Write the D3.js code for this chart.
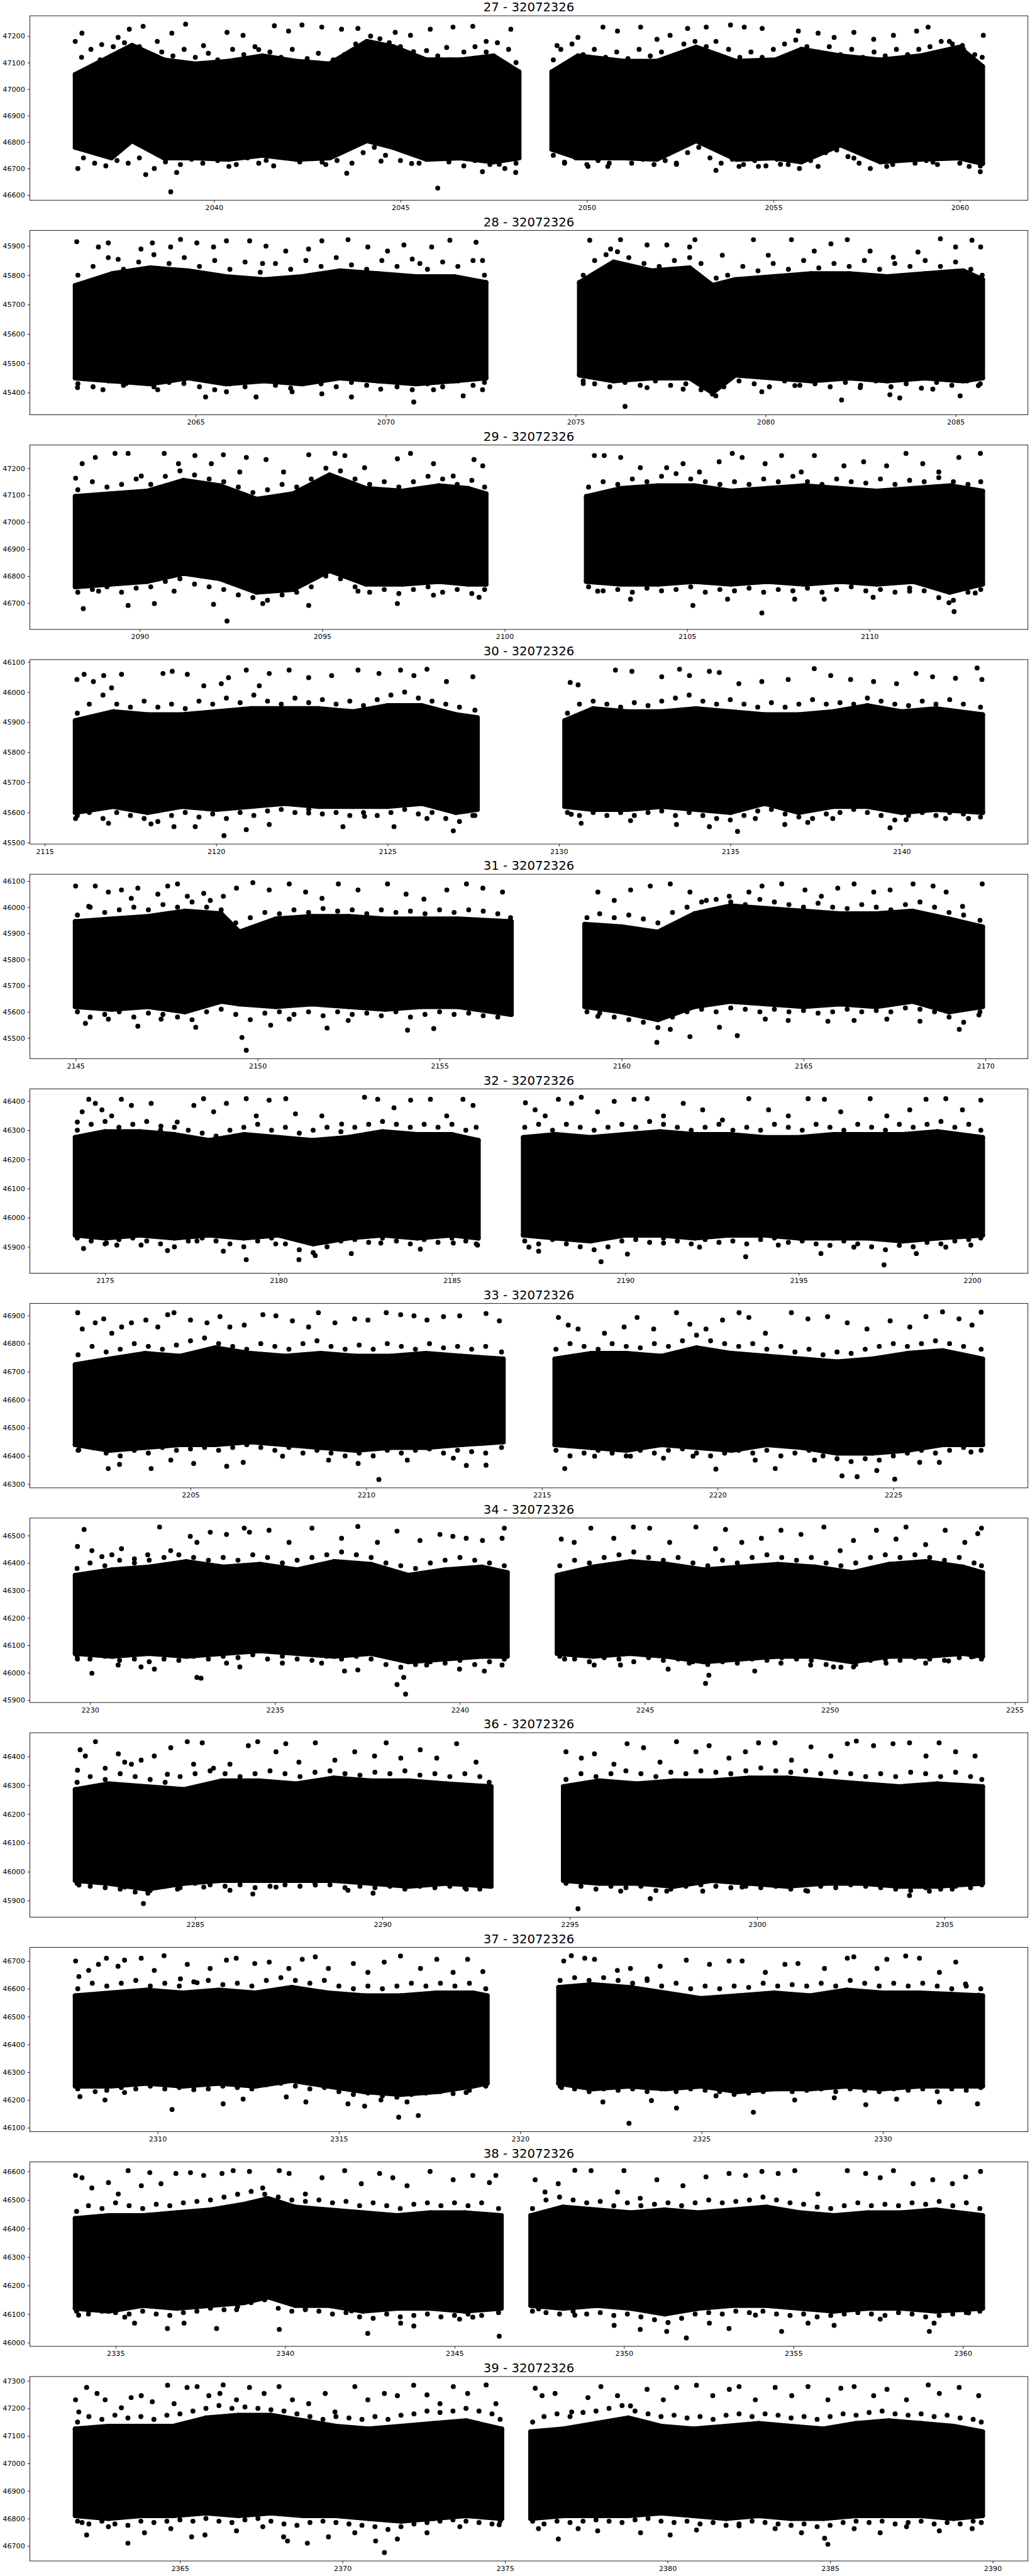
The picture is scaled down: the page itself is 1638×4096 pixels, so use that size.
<!DOCTYPE html>
<html><head><meta charset="utf-8">
<script src="https://cdn.jsdelivr.net/npm/d3@7"></script>
<style>html,body{margin:0;padding:0;background:#fff}svg{display:block}</style>
</head><body><svg id="chart"></svg>
<script>
// ---------------- DATA ----------------
const sectorLabels = ["27","28","29","30","31","32","33","34","36","37","38","39"];
const targetId = "32072326";

const xTicks = [
  [2040,2045,2050,2055,2060],
  [2065,2070,2075,2080,2085],
  [2090,2095,2100,2105,2110],
  [2115,2120,2125,2130,2135,2140],
  [2145,2150,2155,2160,2165,2170],
  [2175,2180,2185,2190,2195,2200],
  [2205,2210,2215,2220,2225],
  [2230,2235,2240,2245,2250,2255],
  [2285,2290,2295,2300,2305],
  [2310,2315,2320,2325,2330],
  [2335,2340,2345,2350,2355,2360],
  [2365,2370,2375,2380,2385,2390]
];
const yTicks = [
  [46600,46700,46800,46900,47000,47100,47200],
  [45400,45500,45600,45700,45800,45900],
  [46700,46800,46900,47000,47100,47200],
  [45500,45600,45700,45800,45900,46000,46100],
  [45500,45600,45700,45800,45900,46000,46100],
  [45900,46000,46100,46200,46300,46400],
  [46300,46400,46500,46600,46700,46800,46900],
  [45900,46000,46100,46200,46300,46400,46500],
  [45900,46000,46100,46200,46300,46400],
  [46100,46200,46300,46400,46500,46600,46700],
  [46000,46100,46200,46300,46400,46500,46600],
  [46700,46800,46900,47000,47100,47200,47300]
];

// dense band of the light curve: [time, lower flux, upper flux]; null separates the two orbits
const core27 = [[2036.28,46780,47055],[2037.25,46740,47125],[2037.8,46805,47165],[2038.66,46740,47110],[2039.5,46740,47095],[2040.4,46735,47105],[2041.3,46750,47125],[2042.2,46735,47105],[2043.1,46740,47095],[2044.1,46805,47180],[2044.8,46780,47160],[2045.7,46735,47110],[2046.6,46740,47110],[2047.5,46725,47125],[2048.18,46740,47065],null,
[2049.06,46773,47065],[2049.76,46740,47125],[2051.0,46740,47105],[2051.88,46735,47105],[2052.93,46805,47158],[2054.0,46735,47105],[2055.05,46740,47110],[2055.75,46725,47150],[2056.8,46789,47125],[2057.87,46725,47110],[2058.93,46735,47125],[2059.98,46740,47158],[2060.61,46719,47085]];
const core28 = [[2061.83,45450,45765],[2062.8,45440,45805],[2063.8,45430,45825],[2064.8,45450,45815],[2065.8,45430,45795],[2066.8,45440,45785],[2067.8,45430,45795],[2068.8,45450,45815],[2069.8,45440,45805],[2070.8,45430,45795],[2071.8,45440,45795],[2072.64,45450,45775],null,
[2075.1,45460,45775],[2076.0,45440,45845],[2077.0,45450,45815],[2078.0,45450,45825],[2078.6,45400,45765],[2079.2,45460,45785],[2080.2,45450,45795],[2081.2,45440,45805],[2082.2,45450,45805],[2083.2,45440,45795],[2084.2,45450,45805],[2085.2,45440,45815],[2085.71,45450,45785]];
const core29 = [[2088.23,46760,47095],[2089.2,46770,47105],[2090.2,46780,47115],[2091.2,46810,47155],[2092.2,46790,47135],[2093.2,46740,47085],[2094.2,46750,47105],[2095.2,46820,47175],[2096.2,46770,47125],[2097.2,46770,47115],[2098.2,46780,47135],[2099.0,46770,47125],[2099.49,46770,47105],null,
[2102.24,46780,47095],[2103.2,46770,47125],[2104.2,46770,47135],[2105.2,46780,47135],[2106.2,46770,47115],[2107.2,46780,47125],[2108.2,46770,47135],[2109.2,46780,47125],[2110.2,46770,47115],[2111.2,46780,47125],[2112.2,46740,47135],[2113.1,46770,47115]];
const core30 = [[2115.89,45600,45905],[2117.0,45620,45935],[2118.0,45600,45925],[2119.0,45620,45925],[2120.0,45610,45935],[2121.0,45620,45945],[2122.0,45630,45945],[2123.0,45620,45945],[2124.0,45620,45935],[2125.0,45620,45955],[2126.0,45630,45955],[2127.0,45600,45925],[2127.62,45610,45915],null,
[2130.17,45620,45905],[2131.0,45610,45945],[2132.0,45610,45935],[2133.0,45620,45935],[2134.0,45610,45945],[2135.0,45600,45935],[2136.0,45630,45925],[2137.0,45600,45925],[2138.0,45620,45935],[2139.0,45620,45955],[2140.0,45600,45935],[2141.0,45610,45945],[2142.36,45600,45925]];
const core31 = [[2144.99,45620,45945],[2146.0,45610,45955],[2147.0,45620,45965],[2148.0,45600,45985],[2149.0,45640,45975],[2149.5,45630,45905],[2150.5,45620,45955],[2151.5,45630,45965],[2152.5,45620,45965],[2153.5,45610,45955],[2154.5,45620,45955],[2155.5,45620,45955],[2156.97,45590,45945],null,
[2158.99,45620,45935],[2160.0,45600,45925],[2161.0,45570,45905],[2162.0,45620,45975],[2163.0,45640,46005],[2164.0,45630,45995],[2165.0,45620,45985],[2166.0,45630,45975],[2167.0,45620,45975],[2168.0,45640,45985],[2169.0,45600,45955],[2169.92,45620,45925]];
const core32 = [[2174.14,45940,46275],[2175.0,45930,46295],[2176.0,45940,46295],[2177.0,45930,46285],[2178.0,45940,46265],[2179.0,45930,46285],[2180.0,45940,46275],[2181.0,45910,46265],[2182.0,45930,46275],[2183.0,45940,46295],[2184.0,45930,46285],[2185.0,45940,46285],[2185.76,45930,46265],null,
[2187.06,45940,46275],[2188.0,45930,46285],[2189.0,45920,46275],[2190.0,45940,46285],[2191.0,45940,46295],[2192.0,45930,46285],[2193.0,45940,46285],[2194.0,45940,46275],[2195.0,45930,46275],[2196.0,45930,46285],[2197.0,45930,46285],[2198.0,45920,46285],[2199.0,45930,46295],[2200.30,45940,46275]];
const core33 = [[2201.72,46440,46725],[2202.7,46420,46745],[2203.7,46430,46765],[2204.7,46440,46755],[2205.7,46440,46785],[2206.7,46450,46765],[2207.7,46440,46755],[2208.7,46430,46765],[2209.7,46420,46755],[2210.7,46430,46755],[2211.7,46430,46765],[2212.7,46440,46755],[2213.9,46450,46745],null,
[2215.37,46440,46745],[2216.4,46430,46765],[2217.4,46420,46765],[2218.4,46440,46755],[2219.4,46430,46785],[2220.4,46420,46765],[2221.4,46440,46755],[2222.4,46430,46745],[2223.4,46410,46735],[2224.4,46410,46745],[2225.4,46420,46765],[2226.4,46440,46775],[2227.54,46440,46745]];
const core34 = [[2229.6,46070,46355],[2230.6,46060,46375],[2231.6,46070,46385],[2232.6,46060,46405],[2233.6,46070,46385],[2234.6,46080,46395],[2235.6,46070,46375],[2236.6,46060,46405],[2237.6,46070,46395],[2238.6,46040,46355],[2239.6,46050,46375],[2240.6,46060,46385],[2241.28,46060,46365],null,
[2242.63,46070,46355],[2243.6,46060,46385],[2244.6,46070,46405],[2245.6,46060,46395],[2246.6,46040,46375],[2247.6,46050,46385],[2248.6,46060,46395],[2249.6,46060,46385],[2250.6,46040,46365],[2251.6,46060,46395],[2252.6,46060,46405],[2253.6,46070,46385],[2254.13,46060,46365]];
const core36 = [[2281.8,45970,46285],[2282.7,45960,46305],[2283.7,45940,46295],[2284.7,45960,46285],[2285.7,45970,46315],[2286.7,45970,46315],[2287.7,45970,46305],[2288.7,45970,46325],[2289.7,45960,46315],[2290.7,45950,46315],[2291.7,45960,46305],[2292.9,45950,46295],null,
[2294.83,45970,46295],[2295.8,45960,46315],[2296.8,45960,46305],[2297.8,45950,46315],[2298.8,45970,46315],[2299.8,45960,46325],[2300.8,45950,46325],[2301.8,45960,46315],[2302.8,45960,46305],[2303.8,45950,46295],[2304.8,45950,46305],[2306.02,45960,46295]];
const core37 = [[2307.73,46250,46575],[2308.7,46250,46585],[2309.7,46260,46595],[2310.7,46250,46585],[2311.7,46260,46595],[2312.7,46250,46585],[2313.7,46270,46605],[2314.7,46250,46585],[2315.7,46230,46575],[2316.7,46220,46575],[2317.7,46230,46585],[2318.7,46250,46585],[2319.09,46260,46575],null,
[2321.06,46260,46605],[2322.0,46240,46615],[2323.0,46250,46605],[2324.0,46240,46585],[2325.0,46250,46565],[2326.0,46230,46575],[2327.0,46240,46585],[2328.0,46240,46575],[2329.0,46250,46595],[2330.0,46240,46585],[2331.0,46250,46585],[2332.75,46250,46575]];
const core38 = [[2333.81,46120,46435],[2334.8,46110,46445],[2335.8,46130,46445],[2336.8,46120,46455],[2337.8,46130,46465],[2338.8,46140,46485],[2339.5,46160,46505],[2340.3,46130,46475],[2341.3,46130,46465],[2342.3,46110,46455],[2343.3,46120,46445],[2344.3,46120,46455],[2345.3,46110,46455],[2346.38,46120,46445],null,
[2347.25,46130,46445],[2348.2,46120,46475],[2349.2,46130,46465],[2350.2,46120,46455],[2351.2,46100,46465],[2352.2,46120,46455],[2353.2,46130,46465],[2354.2,46130,46475],[2355.2,46120,46455],[2356.2,46110,46445],[2357.2,46120,46455],[2358.2,46120,46455],[2359.2,46110,46465],[2360.58,46120,46445]];
const core39 = [[2361.78,46810,47125],[2362.8,46800,47135],[2363.8,46810,47135],[2364.8,46810,47135],[2365.8,46820,47165],[2366.8,46810,47175],[2367.8,46820,47175],[2368.8,46810,47155],[2369.8,46810,47135],[2370.8,46800,47125],[2371.8,46790,47135],[2372.8,46800,47145],[2373.8,46810,47155],[2374.9,46800,47125],null,
[2375.79,46800,47115],[2376.8,46810,47125],[2377.8,46810,47145],[2378.8,46810,47165],[2379.8,46820,47135],[2380.8,46810,47125],[2381.8,46800,47135],[2382.8,46810,47145],[2383.8,46800,47135],[2384.8,46800,47125],[2385.8,46810,47145],[2386.8,46810,47155],[2387.8,46810,47145],[2388.8,46800,47135],[2389.69,46810,47115]];

// crowded points just outside the band edges: [time, flux]
const fringe27 = [[2036.45,47120],[2036.7,47150],[2036.95,47110],[2037.3,47160],[2037.6,47175],[2038.0,47160],[2038.3,47120],[2038.6,47140],[2038.9,47125],[2039.2,47150],[2039.5,47120],[2039.85,47135],[2040.1,47110],[2040.5,47150],[2040.8,47130],[2041.1,47160],[2041.5,47140],[2041.8,47120],[2042.1,47150],[2042.5,47115],[2042.8,47135],[2043.2,47110],[2043.5,47130],[2043.8,47170],[2044.2,47200],[2044.45,47190],[2044.7,47175],[2045.0,47160],[2045.4,47120],[2045.7,47145],[2046.0,47125],[2046.3,47110],[2046.7,47140],[2047.0,47160],[2047.3,47140],[2047.6,47175],[2047.9,47150],[2048.1,47100],
[2036.35,46700],[2036.5,46740],[2036.8,46720],[2037.1,46710],[2037.4,46730],[2037.7,46720],[2038.0,46740],[2038.4,46700],[2038.7,46725],[2039.1,46715],[2039.4,46735],[2039.7,46720],[2040.1,46730],[2040.6,46715],[2040.9,46740],[2041.2,46720],[2041.6,46710],[2041.9,46740],[2042.3,46725],[2042.6,46740],[2043.0,46715],[2043.3,46730],[2043.7,46720],[2044.0,46760],[2044.3,46780],[2044.6,46750],[2045.0,46730],[2045.5,46720],[2045.9,46740],[2046.3,46725],[2046.7,46710],[2047.0,46730],[2047.4,46715],[2047.8,46700],[2048.1,46720],
[2049.1,47110],[2049.3,47150],[2049.6,47170],[2049.9,47130],[2050.2,47150],[2050.5,47120],[2050.8,47140],[2051.1,47115],[2051.4,47150],[2051.7,47125],[2052.0,47140],[2052.3,47110],[2052.6,47170],[2052.9,47180],[2053.2,47160],[2053.5,47130],[2053.8,47150],[2054.1,47120],[2054.4,47140],[2054.7,47120],[2055.0,47150],[2055.3,47170],[2055.6,47185],[2055.9,47160],[2056.2,47140],[2056.5,47160],[2056.8,47130],[2057.1,47150],[2057.4,47120],[2057.7,47140],[2058.0,47125],[2058.3,47150],[2058.6,47130],[2058.9,47150],[2059.2,47160],[2059.5,47180],[2059.8,47170],[2060.1,47150],[2060.4,47130],[2060.6,47120],
[2049.1,46750],[2049.4,46720],[2049.7,46740],[2050.0,46715],[2050.3,46730],[2050.6,46720],[2050.9,46745],[2051.2,46720],[2051.5,46735],[2051.8,46715],[2052.1,46730],[2052.4,46720],[2052.7,46760],[2053.0,46780],[2053.3,46740],[2053.6,46720],[2053.9,46735],[2054.2,46715],[2054.5,46730],[2054.8,46710],[2055.1,46735],[2055.4,46715],[2055.7,46700],[2056.0,46730],[2056.4,46760],[2056.7,46770],[2057.0,46745],[2057.3,46720],[2057.6,46700],[2057.9,46730],[2058.2,46715],[2058.5,46735],[2058.8,46720],[2059.1,46730],[2059.4,46715],[2059.7,46740],[2060.0,46720],[2060.3,46730],[2060.55,46710]];
const fringe28 = [[2061.9,45800],[2062.3,45830],[2062.7,45860],[2063.1,45820],[2063.5,45845],[2063.9,45870],[2064.3,45840],[2064.7,45860],[2065.1,45830],[2065.5,45850],[2065.9,45820],[2066.3,45845],[2066.7,45810],[2067.1,45840],[2067.5,45820],[2067.9,45850],[2068.3,45830],[2068.7,45860],[2069.1,45835],[2069.5,45820],[2069.9,45850],[2070.3,45830],[2070.7,45855],[2071.1,45820],[2071.5,45845],[2071.9,45830],[2072.3,45850],[2072.6,45800],
[2061.9,45430],[2062.3,45420],[2062.7,45440],[2063.1,45425],[2063.5,45440],[2063.9,45420],[2064.3,45435],[2064.7,45445],[2065.1,45420],[2065.5,45410],[2065.9,45430],[2066.3,45420],[2066.7,45440],[2067.1,45425],[2067.5,45415],[2067.9,45440],[2068.3,45430],[2068.7,45420],[2069.1,45435],[2069.5,45425],[2069.9,45440],[2070.3,45420],[2070.7,45410],[2071.1,45430],[2071.5,45420],[2071.9,45440],[2072.3,45425],[2072.6,45435],
[2075.2,45800],[2075.5,45850],[2075.8,45870],[2076.1,45880],[2076.4,45860],[2076.8,45840],[2077.2,45830],[2077.6,45850],[2078.0,45860],[2078.3,45840],[2078.7,45790],[2079.0,45800],[2079.4,45830],[2079.8,45815],[2080.2,45840],[2080.6,45820],[2081.0,45850],[2081.4,45825],[2081.8,45840],[2082.2,45830],[2082.6,45850],[2083.0,45820],[2083.4,45840],[2083.8,45830],[2084.2,45850],[2084.6,45830],[2085.0,45845],[2085.4,45820],[2085.7,45800],
[2075.2,45440],[2075.5,45430],[2075.9,45420],[2076.3,45435],[2076.7,45425],[2077.1,45440],[2077.5,45425],[2077.9,45430],[2078.3,45410],[2078.6,45395],[2078.9,45420],[2079.3,45440],[2079.7,45430],[2080.1,45420],[2080.5,45440],[2080.9,45425],[2081.3,45430],[2081.7,45420],[2082.1,45435],[2082.5,45425],[2082.9,45440],[2083.3,45420],[2083.7,45430],[2084.1,45415],[2084.5,45435],[2084.9,45425],[2085.3,45440],[2085.65,45430]];
const fringe29 = [[2088.3,47120],[2088.7,47150],[2089.1,47130],[2089.5,47140],[2089.9,47160],[2090.3,47140],[2090.7,47170],[2091.1,47190],[2091.5,47175],[2091.9,47160],[2092.3,47150],[2092.7,47130],[2093.1,47110],[2093.5,47120],[2093.9,47140],[2094.3,47130],[2094.7,47160],[2095.1,47200],[2095.5,47190],[2095.9,47160],[2096.3,47140],[2096.7,47150],[2097.1,47130],[2097.5,47150],[2097.9,47170],[2098.3,47160],[2098.7,47140],[2099.1,47155],[2099.45,47130],
[2088.3,46740],[2088.7,46750],[2089.1,46760],[2089.5,46740],[2089.9,46755],[2090.3,46760],[2090.7,46780],[2091.1,46790],[2091.5,46770],[2091.9,46760],[2092.3,46750],[2092.7,46730],[2093.1,46720],[2093.5,46710],[2093.9,46730],[2094.3,46740],[2094.7,46760],[2095.1,46800],[2095.5,46790],[2095.9,46760],[2096.3,46740],[2096.7,46750],[2097.1,46735],[2097.5,46750],[2097.9,46760],[2098.3,46740],[2098.7,46750],[2099.1,46735],[2099.45,46750],
[2102.3,47130],[2102.7,47150],[2103.1,47140],[2103.5,47160],[2103.9,47150],[2104.3,47170],[2104.7,47180],[2105.1,47160],[2105.5,47150],[2105.9,47140],[2106.3,47150],[2106.7,47140],[2107.1,47160],[2107.5,47150],[2107.9,47170],[2108.3,47150],[2108.7,47140],[2109.1,47160],[2109.5,47150],[2109.9,47145],[2110.3,47160],[2110.7,47140],[2111.1,47155],[2111.5,47150],[2111.9,47165],[2112.3,47150],[2112.7,47140],[2113.05,47150],
[2102.3,46760],[2102.7,46745],[2103.1,46750],[2103.5,46740],[2103.9,46755],[2104.3,46745],[2104.7,46750],[2105.1,46760],[2105.5,46740],[2105.9,46750],[2106.3,46745],[2106.7,46755],[2107.1,46740],[2107.5,46750],[2107.9,46745],[2108.3,46755],[2108.7,46740],[2109.1,46750],[2109.5,46760],[2109.9,46745],[2110.3,46750],[2110.7,46740],[2111.1,46755],[2111.5,46745],[2111.9,46720],[2112.3,46710],[2112.7,46740],[2113.05,46750]];
const fringe30 = [[2115.95,45930],[2116.3,45960],[2116.7,45990],[2117.1,45960],[2117.5,45950],[2117.9,45970],[2118.3,45950],[2118.7,45960],[2119.1,45945],[2119.5,45970],[2119.9,45960],[2120.3,45980],[2120.7,45965],[2121.1,45990],[2121.5,45970],[2121.9,45960],[2122.3,45980],[2122.7,45965],[2123.1,45975],[2123.5,45960],[2123.9,45970],[2124.3,45955],[2124.7,45975],[2125.1,45990],[2125.5,46000],[2125.9,45980],[2126.3,45970],[2126.7,45960],[2127.1,45950],[2127.55,45940],
[2115.95,45590],[2116.3,45600],[2116.7,45580],[2117.1,45600],[2117.5,45590],[2117.9,45580],[2118.3,45570],[2118.7,45590],[2119.1,45600],[2119.5,45585],[2119.9,45595],[2120.3,45580],[2120.7,45600],[2121.1,45590],[2121.5,45605],[2121.9,45610],[2122.3,45600],[2122.7,45610],[2123.1,45595],[2123.5,45600],[2123.9,45590],[2124.3,45600],[2124.7,45590],[2125.1,45600],[2125.5,45610],[2125.9,45595],[2126.3,45600],[2126.7,45580],[2127.1,45570],[2127.55,45590],
[2130.25,45930],[2130.6,45960],[2131.0,45970],[2131.4,45960],[2131.8,45950],[2132.2,45965],[2132.6,45955],[2133.0,45970],[2133.4,45980],[2133.8,45990],[2134.2,45970],[2134.6,45960],[2135.0,45975],[2135.4,45960],[2135.8,45950],[2136.2,45965],[2136.6,45950],[2137.0,45960],[2137.4,45975],[2137.8,45960],[2138.2,45965],[2138.6,45960],[2139.0,45980],[2139.4,45970],[2139.8,45960],[2140.2,45955],[2140.6,45970],[2141.0,45960],[2141.4,45975],[2141.8,45960],[2142.3,45950],
[2130.25,45600],[2130.6,45590],[2131.0,45600],[2131.4,45590],[2131.8,45600],[2132.2,45590],[2132.6,45600],[2133.0,45605],[2133.4,45590],[2133.8,45600],[2134.2,45590],[2134.6,45580],[2135.0,45575],[2135.4,45590],[2135.8,45605],[2136.2,45610],[2136.6,45595],[2137.0,45585],[2137.4,45580],[2137.8,45595],[2138.2,45600],[2138.6,45610],[2139.0,45600],[2139.4,45590],[2139.8,45575],[2140.2,45590],[2140.6,45600],[2141.0,45590],[2141.4,45600],[2141.8,45595],[2142.3,45585]];
const fringe31 = [[2145.05,45970],[2145.4,46000],[2145.8,45980],[2146.2,45990],[2146.6,46000],[2147.0,45990],[2147.4,46010],[2147.8,46000],[2148.2,46020],[2148.6,46000],[2149.0,45990],[2149.4,45940],[2149.8,45960],[2150.2,45980],[2150.6,45975],[2151.0,45990],[2151.4,45980],[2151.8,45995],[2152.2,45985],[2152.6,45990],[2153.0,45975],[2153.4,45990],[2153.8,45980],[2154.2,45985],[2154.6,45975],[2155.0,45990],[2155.4,45980],[2155.8,45990],[2156.2,45985],[2156.6,45975],[2156.95,45960],
[2145.05,45600],[2145.4,45580],[2145.8,45590],[2146.2,45600],[2146.6,45580],[2147.0,45595],[2147.4,45590],[2147.8,45580],[2148.2,45570],[2148.6,45600],[2149.0,45610],[2149.4,45590],[2149.8,45570],[2150.2,45595],[2150.6,45600],[2151.0,45590],[2151.4,45600],[2151.8,45585],[2152.2,45600],[2152.6,45590],[2153.0,45595],[2153.4,45585],[2153.8,45600],[2154.2,45580],[2154.6,45590],[2155.0,45600],[2155.4,45590],[2155.8,45595],[2156.2,45585],[2156.6,45580],[2156.95,45590],
[2159.05,45960],[2159.4,45975],[2159.8,45960],[2160.2,45970],[2160.6,45955],[2161.0,45940],[2161.4,45980],[2161.8,46000],[2162.2,46020],[2162.6,46030],[2163.0,46020],[2163.4,46010],[2163.8,46030],[2164.2,46020],[2164.6,46010],[2165.0,46000],[2165.4,46015],[2165.8,46000],[2166.2,45995],[2166.6,46010],[2167.0,46000],[2167.4,45990],[2167.8,46010],[2168.2,46020],[2168.6,46000],[2169.0,45980],[2169.4,45970],[2169.85,45950],
[2159.05,45600],[2159.4,45595],[2159.8,45580],[2160.2,45570],[2160.6,45560],[2161.0,45540],[2161.4,45580],[2161.8,45600],[2162.2,45610],[2162.6,45600],[2163.0,45615],[2163.4,45610],[2163.8,45600],[2164.2,45610],[2164.6,45600],[2165.0,45605],[2165.4,45595],[2165.8,45600],[2166.2,45610],[2166.6,45600],[2167.0,45605],[2167.4,45600],[2167.8,45615],[2168.2,45610],[2168.6,45600],[2169.0,45580],[2169.4,45560],[2169.85,45600]];
const fringe32 = [[2174.2,46300],[2174.6,46320],[2175.0,46330],[2175.4,46310],[2175.8,46320],[2176.2,46330],[2176.6,46300],[2177.0,46310],[2177.4,46300],[2177.8,46290],[2178.2,46280],[2178.6,46300],[2179.0,46310],[2179.4,46320],[2179.8,46300],[2180.2,46310],[2180.6,46290],[2181.0,46300],[2181.4,46310],[2181.8,46295],[2182.2,46310],[2182.6,46320],[2183.0,46330],[2183.4,46320],[2183.8,46310],[2184.2,46320],[2184.6,46310],[2185.0,46320],[2185.4,46300],[2185.7,46310],
[2174.2,45930],[2174.6,45920],[2175.0,45910],[2175.4,45925],[2175.8,45930],[2176.2,45920],[2176.6,45910],[2177.0,45900],[2177.4,45920],[2177.8,45930],[2178.2,45920],[2178.6,45910],[2179.0,45900],[2179.4,45920],[2179.8,45930],[2180.2,45910],[2180.6,45890],[2181.0,45880],[2181.4,45900],[2181.8,45920],[2182.2,45925],[2182.6,45915],[2183.0,45930],[2183.4,45920],[2183.8,45910],[2184.2,45925],[2184.6,45915],[2185.0,45930],[2185.4,45920],[2185.7,45910],
[2187.1,46310],[2187.5,46320],[2187.9,46300],[2188.3,46320],[2188.7,46310],[2189.1,46300],[2189.5,46310],[2189.9,46320],[2190.3,46310],[2190.7,46330],[2191.1,46320],[2191.5,46310],[2191.9,46300],[2192.3,46310],[2192.7,46320],[2193.1,46300],[2193.5,46310],[2193.9,46300],[2194.3,46320],[2194.7,46310],[2195.1,46300],[2195.5,46320],[2195.9,46310],[2196.3,46300],[2196.7,46320],[2197.1,46310],[2197.5,46300],[2197.9,46320],[2198.3,46310],[2198.7,46320],[2199.1,46330],[2199.5,46310],[2199.9,46320],[2200.25,46300],
[2187.1,45920],[2187.5,45910],[2187.9,45925],[2188.3,45910],[2188.7,45900],[2189.1,45890],[2189.5,45900],[2189.9,45920],[2190.3,45925],[2190.7,45915],[2191.1,45930],[2191.5,45920],[2191.9,45910],[2192.3,45925],[2192.7,45915],[2193.1,45920],[2193.5,45910],[2193.9,45925],[2194.3,45930],[2194.7,45915],[2195.1,45920],[2195.5,45910],[2195.9,45905],[2196.3,45920],[2196.7,45910],[2197.1,45900],[2197.5,45890],[2197.9,45905],[2198.3,45900],[2198.7,45915],[2199.1,45910],[2199.5,45920],[2199.9,45925],[2200.25,45930]];
const fringe33 = [[2201.8,46760],[2202.2,46790],[2202.6,46770],[2203.0,46780],[2203.4,46800],[2203.8,46790],[2204.2,46780],[2204.6,46795],[2205.0,46810],[2205.4,46820],[2205.8,46800],[2206.2,46790],[2206.6,46780],[2207.0,46800],[2207.4,46790],[2207.8,46780],[2208.2,46800],[2208.6,46810],[2209.0,46790],[2209.4,46780],[2209.8,46795],[2210.2,46780],[2210.6,46800],[2211.0,46790],[2211.4,46780],[2211.8,46800],[2212.2,46785],[2212.6,46790],[2213.0,46780],[2213.4,46790],[2213.85,46770],
[2201.8,46420],[2202.2,46430],[2202.6,46410],[2203.0,46400],[2203.4,46420],[2203.8,46410],[2204.2,46430],[2204.6,46420],[2205.0,46425],[2205.4,46430],[2205.8,46420],[2206.2,46430],[2206.6,46440],[2207.0,46430],[2207.4,46420],[2207.8,46430],[2208.2,46410],[2208.6,46420],[2209.0,46410],[2209.4,46400],[2209.8,46410],[2210.2,46400],[2210.6,46420],[2211.0,46410],[2211.4,46420],[2211.8,46425],[2212.2,46410],[2212.6,46420],[2213.0,46415],[2213.4,46410],[2213.85,46430],
[2215.4,46780],[2215.8,46800],[2216.2,46790],[2216.6,46780],[2217.0,46800],[2217.4,46790],[2217.8,46785],[2218.2,46800],[2218.6,46790],[2219.0,46810],[2219.4,46830],[2219.8,46810],[2220.2,46800],[2220.6,46790],[2221.0,46800],[2221.4,46780],[2221.8,46790],[2222.2,46770],[2222.6,46780],[2223.0,46760],[2223.4,46770],[2223.8,46765],[2224.2,46780],[2224.6,46790],[2225.0,46800],[2225.4,46790],[2225.8,46800],[2226.2,46810],[2226.6,46800],[2227.0,46790],[2227.5,46780],
[2215.4,46420],[2215.8,46400],[2216.2,46410],[2216.6,46420],[2217.0,46410],[2217.4,46400],[2217.8,46420],[2218.2,46410],[2218.6,46420],[2219.0,46425],[2219.4,46410],[2219.8,46400],[2220.2,46410],[2220.6,46420],[2221.0,46410],[2221.4,46420],[2221.8,46400],[2222.2,46410],[2222.6,46420],[2223.0,46400],[2223.4,46390],[2223.8,46380],[2224.2,46390],[2224.6,46385],[2225.0,46400],[2225.4,46410],[2225.8,46420],[2226.2,46410],[2226.6,46420],[2227.0,46430],[2227.5,46420]];
const fringe34 = [[2229.65,46380],[2230.0,46400],[2230.4,46390],[2230.8,46410],[2231.2,46400],[2231.6,46410],[2232.0,46420],[2232.4,46430],[2232.8,46420],[2233.2,46410],[2233.6,46420],[2234.0,46410],[2234.4,46430],[2234.8,46420],[2235.2,46400],[2235.6,46410],[2236.0,46420],[2236.4,46430],[2236.8,46440],[2237.2,46430],[2237.6,46420],[2238.0,46400],[2238.4,46390],[2238.8,46380],[2239.2,46400],[2239.6,46410],[2240.0,46420],[2240.4,46410],[2240.8,46400],[2241.2,46390],
[2229.65,46060],[2230.0,46050],[2230.4,46060],[2230.8,46045],[2231.2,46050],[2231.6,46040],[2232.0,46050],[2232.4,46045],[2232.8,46060],[2233.2,46050],[2233.6,46060],[2234.0,46055],[2234.4,46065],[2234.8,46050],[2235.2,46060],[2235.6,46050],[2236.0,46045],[2236.4,46060],[2236.8,46050],[2237.2,46060],[2237.6,46050],[2238.0,46030],[2238.4,46020],[2238.8,46030],[2239.2,46040],[2239.6,46035],[2240.0,46045],[2240.4,46030],[2240.8,46040],[2241.2,46050],
[2242.7,46390],[2243.1,46410],[2243.5,46400],[2243.9,46420],[2244.3,46430],[2244.7,46440],[2245.1,46420],[2245.5,46410],[2245.9,46420],[2246.3,46400],[2246.7,46390],[2247.1,46410],[2247.5,46400],[2247.9,46420],[2248.3,46430],[2248.7,46420],[2249.1,46410],[2249.5,46420],[2249.9,46400],[2250.3,46390],[2250.7,46400],[2251.1,46420],[2251.5,46430],[2251.9,46420],[2252.3,46430],[2252.7,46420],[2253.1,46410],[2253.5,46420],[2253.9,46400],[2254.1,46390],
[2242.7,46060],[2243.1,46050],[2243.5,46040],[2243.9,46055],[2244.3,46050],[2244.7,46040],[2245.1,46055],[2245.5,46045],[2245.9,46050],[2246.3,46040],[2246.7,46030],[2247.1,46040],[2247.5,46035],[2247.9,46050],[2248.3,46045],[2248.7,46055],[2249.1,46050],[2249.5,46045],[2249.9,46030],[2250.3,46020],[2250.7,46030],[2251.1,46045],[2251.5,46050],[2251.9,46045],[2252.3,46055],[2252.7,46050],[2253.1,46045],[2253.5,46055],[2253.9,46060],[2254.1,46050]];
const fringe36 = [[2281.85,46310],[2282.2,46330],[2282.6,46320],[2283.0,46340],[2283.4,46330],[2283.8,46320],[2284.2,46310],[2284.6,46330],[2285.0,46340],[2285.4,46350],[2285.8,46340],[2286.2,46330],[2286.6,46340],[2287.0,46350],[2287.4,46340],[2287.8,46330],[2288.2,46345],[2288.6,46350],[2289.0,46340],[2289.4,46335],[2289.8,46345],[2290.2,46340],[2290.6,46350],[2291.0,46335],[2291.4,46340],[2291.8,46330],[2292.2,46340],[2292.6,46330],[2292.85,46310],
[2281.85,45960],[2282.2,45950],[2282.6,45945],[2283.0,45940],[2283.4,45930],[2283.8,45935],[2284.2,45950],[2284.6,45945],[2285.0,45960],[2285.4,45955],[2285.8,45950],[2286.2,45955],[2286.6,45945],[2287.0,45950],[2287.4,45955],[2287.8,45950],[2288.2,45960],[2288.6,45955],[2289.0,45945],[2289.4,45950],[2289.8,45945],[2290.2,45950],[2290.6,45940],[2291.0,45950],[2291.4,45945],[2291.8,45950],[2292.2,45945],[2292.6,45940],[2292.85,45950],
[2294.9,46320],[2295.3,46340],[2295.7,46330],[2296.1,46340],[2296.5,46350],[2296.9,46340],[2297.3,46330],[2297.7,46345],[2298.1,46340],[2298.5,46350],[2298.9,46345],[2299.3,46340],[2299.7,46350],[2300.1,46360],[2300.5,46350],[2300.9,46345],[2301.3,46350],[2301.7,46340],[2302.1,46345],[2302.5,46340],[2302.9,46330],[2303.3,46340],[2303.7,46330],[2304.1,46345],[2304.5,46340],[2304.9,46330],[2305.3,46345],[2305.7,46330],[2306.0,46320],
[2294.9,45960],[2295.3,45950],[2295.7,45940],[2296.1,45950],[2296.5,45945],[2296.9,45950],[2297.3,45935],[2297.7,45940],[2298.1,45950],[2298.5,45955],[2298.9,45950],[2299.3,45945],[2299.7,45950],[2300.1,45945],[2300.5,45950],[2300.9,45940],[2301.3,45935],[2301.7,45950],[2302.1,45945],[2302.5,45955],[2302.9,45950],[2303.3,45945],[2303.7,45940],[2304.1,45935],[2304.5,45945],[2304.9,45940],[2305.3,45950],[2305.7,45945],[2306.0,45955]];
const fringe37 = [[2307.8,46600],[2308.2,46620],[2308.6,46610],[2309.0,46620],[2309.4,46630],[2309.8,46610],[2310.2,46620],[2310.6,46610],[2311.0,46625],[2311.4,46630],[2311.8,46615],[2312.2,46620],[2312.6,46610],[2313.0,46630],[2313.4,46640],[2313.8,46630],[2314.2,46620],[2314.6,46630],[2315.0,46610],[2315.4,46600],[2315.8,46610],[2316.2,46600],[2316.6,46610],[2317.0,46620],[2317.4,46610],[2317.8,46620],[2318.2,46610],[2318.6,46620],[2319.05,46600],
[2307.8,46240],[2308.2,46250],[2308.6,46235],[2309.0,46245],[2309.4,46240],[2309.8,46250],[2310.2,46240],[2310.6,46245],[2311.0,46250],[2311.4,46240],[2311.8,46250],[2312.2,46245],[2312.6,46240],[2313.0,46255],[2313.4,46260],[2313.8,46250],[2314.2,46240],[2314.6,46245],[2315.0,46230],[2315.4,46220],[2315.8,46225],[2316.2,46215],[2316.6,46210],[2317.0,46220],[2317.4,46225],[2317.8,46230],[2318.2,46240],[2318.6,46235],[2319.05,46250],
[2321.1,46630],[2321.5,46640],[2321.9,46630],[2322.3,46640],[2322.7,46630],[2323.1,46620],[2323.5,46630],[2323.9,46610],[2324.3,46620],[2324.7,46600],[2325.1,46610],[2325.5,46600],[2325.9,46610],[2326.3,46605],[2326.7,46620],[2327.1,46610],[2327.5,46615],[2327.9,46610],[2328.3,46620],[2328.7,46610],[2329.1,46630],[2329.5,46620],[2329.9,46610],[2330.3,46620],[2330.7,46610],[2331.1,46620],[2331.5,46610],[2331.9,46600],[2332.3,46610],[2332.7,46600],
[2321.1,46250],[2321.5,46240],[2321.9,46230],[2322.3,46240],[2322.7,46235],[2323.1,46240],[2323.5,46230],[2323.9,46240],[2324.3,46230],[2324.7,46240],[2325.1,46235],[2325.5,46230],[2325.9,46220],[2326.3,46225],[2326.7,46230],[2327.1,46240],[2327.5,46230],[2327.9,46235],[2328.3,46240],[2328.7,46230],[2329.1,46240],[2329.5,46235],[2329.9,46230],[2330.3,46240],[2330.7,46235],[2331.1,46240],[2331.5,46230],[2331.9,46240],[2332.3,46235],[2332.7,46245]];
const fringe38 = [[2333.85,46460],[2334.2,46480],[2334.6,46470],[2335.0,46490],[2335.4,46480],[2335.8,46470],[2336.2,46485],[2336.6,46480],[2337.0,46490],[2337.4,46495],[2337.8,46500],[2338.2,46510],[2338.6,46520],[2339.0,46530],[2339.4,46520],[2339.8,46510],[2340.2,46500],[2340.6,46495],[2341.0,46500],[2341.4,46490],[2341.8,46495],[2342.2,46480],[2342.6,46490],[2343.0,46480],[2343.4,46470],[2343.8,46485],[2344.2,46490],[2344.6,46480],[2345.0,46490],[2345.4,46480],[2345.8,46490],[2346.3,46470],
[2333.85,46110],[2334.2,46100],[2334.6,46110],[2335.0,46105],[2335.4,46100],[2335.8,46110],[2336.2,46100],[2336.6,46095],[2337.0,46105],[2337.4,46110],[2337.8,46120],[2338.2,46115],[2338.6,46125],[2339.0,46140],[2339.4,46150],[2339.8,46120],[2340.2,46110],[2340.6,46115],[2341.0,46110],[2341.4,46100],[2341.8,46105],[2342.2,46090],[2342.6,46085],[2343.0,46100],[2343.4,46090],[2343.8,46095],[2344.2,46100],[2344.6,46090],[2345.0,46095],[2345.4,46100],[2345.8,46095],[2346.3,46105],
[2347.3,46470],[2347.7,46500],[2348.1,46510],[2348.5,46500],[2348.9,46490],[2349.3,46495],[2349.7,46480],[2350.1,46490],[2350.5,46480],[2350.9,46485],[2351.3,46490],[2351.7,46480],[2352.1,46490],[2352.5,46500],[2352.9,46490],[2353.3,46495],[2353.7,46500],[2354.1,46510],[2354.5,46500],[2354.9,46490],[2355.3,46485],[2355.7,46475],[2356.1,46470],[2356.5,46480],[2356.9,46490],[2357.3,46480],[2357.7,46485],[2358.1,46480],[2358.5,46490],[2358.9,46485],[2359.3,46495],[2359.7,46480],[2360.1,46490],[2360.5,46470],
[2347.3,46110],[2347.7,46105],[2348.1,46100],[2348.5,46110],[2348.9,46100],[2349.3,46105],[2349.7,46095],[2350.1,46100],[2350.5,46090],[2350.9,46080],[2351.3,46070],[2351.7,46085],[2352.1,46100],[2352.5,46105],[2352.9,46100],[2353.3,46110],[2353.7,46105],[2354.1,46110],[2354.5,46100],[2354.9,46095],[2355.3,46100],[2355.7,46090],[2356.1,46095],[2356.5,46100],[2356.9,46105],[2357.3,46100],[2357.7,46095],[2358.1,46105],[2358.5,46100],[2358.9,46090],[2359.3,46095],[2359.7,46100],[2360.1,46105],[2360.5,46110]];
const fringe39 = [[2361.85,47150],[2362.2,47170],[2362.6,47160],[2363.0,47175],[2363.4,47165],[2363.8,47170],[2364.2,47160],[2364.6,47175],[2365.0,47180],[2365.4,47190],[2365.8,47200],[2366.2,47210],[2366.6,47200],[2367.0,47205],[2367.4,47200],[2367.8,47195],[2368.2,47190],[2368.6,47180],[2369.0,47170],[2369.4,47160],[2369.8,47170],[2370.2,47165],[2370.6,47160],[2371.0,47170],[2371.4,47160],[2371.8,47175],[2372.2,47180],[2372.6,47190],[2373.0,47185],[2373.4,47190],[2373.8,47200],[2374.2,47190],[2374.6,47180],[2374.85,47160],
[2361.85,46790],[2362.2,46780],[2362.6,46790],[2363.0,46780],[2363.4,46775],[2363.8,46790],[2364.2,46785],[2364.6,46790],[2365.0,46795],[2365.4,46790],[2365.8,46800],[2366.2,46790],[2366.6,46785],[2367.0,46795],[2367.4,46800],[2367.8,46790],[2368.2,46780],[2368.6,46775],[2369.0,46785],[2369.4,46790],[2369.8,46785],[2370.2,46780],[2370.6,46775],[2371.0,46770],[2371.4,46760],[2371.8,46770],[2372.2,46780],[2372.6,46785],[2373.0,46790],[2373.4,46795],[2373.8,46790],[2374.2,46785],[2374.6,46780],[2374.85,46790],
[2375.85,47150],[2376.2,47170],[2376.6,47180],[2377.0,47170],[2377.4,47185],[2377.8,47190],[2378.2,47200],[2378.6,47210],[2379.0,47190],[2379.4,47180],[2379.8,47170],[2380.2,47175],[2380.6,47165],[2381.0,47170],[2381.4,47160],[2381.8,47175],[2382.2,47180],[2382.6,47170],[2383.0,47180],[2383.4,47175],[2383.8,47165],[2384.2,47170],[2384.6,47160],[2385.0,47170],[2385.4,47180],[2385.8,47175],[2386.2,47185],[2386.6,47190],[2387.0,47180],[2387.4,47175],[2387.8,47180],[2388.2,47170],[2388.6,47175],[2389.0,47165],[2389.4,47160],[2389.65,47150],
[2375.85,46790],[2376.2,46780],[2376.6,46790],[2377.0,46785],[2377.4,46790],[2377.8,46795],[2378.2,46790],[2378.6,46785],[2379.0,46795],[2379.4,46800],[2379.8,46790],[2380.2,46785],[2380.6,46790],[2381.0,46780],[2381.4,46785],[2381.8,46775],[2382.2,46780],[2382.6,46790],[2383.0,46785],[2383.4,46780],[2383.8,46775],[2384.2,46780],[2384.6,46770],[2385.0,46775],[2385.4,46785],[2385.8,46790],[2386.2,46785],[2386.6,46790],[2387.0,46780],[2387.4,46785],[2387.8,46790],[2388.2,46780],[2388.6,46785],[2389.0,46780],[2389.4,46790],[2389.65,46785]];

// isolated points far from the band: [time, flux]
const dots27 = [[2036.28,47180],[2036.46,47211],[2036.99,47168],[2037.43,47195],[2037.73,47226],[2038.1,47237],[2038.48,47180],[2038.87,47211],[2039.24,47245],[2039.72,47164],[2040.35,47214],[2040.78,47203],[2041.62,47239],[2042.0,47219],[2042.36,47242],[2042.89,47234],[2043.42,47226],[2043.86,47229],[2044.86,47214],[2045.27,47203],[2045.8,47226],[2046.41,47234],[2046.94,47237],[2047.3,47180],[2047.96,47226],[2041.2,47149],[2044.5,47164],[2045.35,47141],[2046.24,47157],
[2049.2,47164],[2049.76,47195],[2050.43,47234],[2050.82,47219],[2051.44,47234],[2051.88,47188],[2052.23,47203],[2052.7,47229],[2053.2,47234],[2053.46,47180],[2053.85,47242],[2054.22,47234],[2054.7,47229],[2055.67,47219],[2056.2,47211],[2056.63,47195],[2057.16,47214],[2057.69,47188],[2058.22,47203],[2058.84,47219],[2059.15,47234],[2059.72,47180],[2060.07,47164],[2060.63,47203],
[2038.17,46677],[2038.84,46612],[2039.0,46685],[2040.4,46708],[2041.4,46731],[2042.9,46724],[2043.56,46682],[2044.48,46728],[2045.3,46719],[2046.0,46626],[2047.2,46688],[2047.65,46716],[2048.09,46685],[2049.4,46724],[2050.03,46708],[2050.56,46708],[2051.52,46739],[2052.4,46716],[2053.46,46693],[2054.08,46708],[2054.6,46708],[2055.19,46716],[2056.2,46708],[2057.16,46739],[2058.04,46708],[2059.28,46724],[2060.25,46708],[2060.55,46688]];
const dots28 = [[2061.87,45914],[2062.44,45896],[2062.7,45910],[2062.96,45854],[2063.56,45889],[2063.86,45910],[2064.34,45896],[2064.6,45922],[2065.03,45910],[2065.47,45896],[2065.81,45917],[2066.42,45917],[2066.85,45899],[2067.37,45882],[2067.97,45889],[2068.32,45917],[2069.01,45921],[2069.53,45896],[2070.05,45882],[2070.48,45903],[2071.21,45896],[2071.69,45919],[2072.38,45912],[2072.55,45850],[2070.9,45840],[2066.76,45840],
[2075.37,45919],[2075.92,45889],[2076.18,45921],[2076.88,45903],[2077.4,45903],[2078.0,45896],[2078.14,45921],[2078.86,45868],[2079.68,45921],[2080.07,45868],[2080.68,45921],[2081.28,45882],[2081.72,45907],[2082.15,45921],[2082.75,45882],[2083.36,45861],[2084.01,45879],[2084.6,45924],[2085.0,45896],[2085.43,45919],[2085.66,45896],
[2061.89,45417],[2062.56,45410],[2063.17,45431],[2064.0,45410],[2064.69,45431],[2065.26,45385],[2065.81,45403],[2066.59,45385],[2067.54,45403],[2068.32,45396],[2069.1,45385],[2069.87,45412],[2070.74,45368],[2071.26,45410],[2072.04,45389],[2072.55,45410],
[2075.2,45431],[2076.3,45353],[2076.88,45417],[2077.83,45412],[2078.69,45389],[2079.9,45403],[2080.77,45424],[2082.0,45375],[2082.49,45417],[2083.27,45393],[2083.53,45382],[2084.4,45412],[2085.12,45389],[2085.6,45424]];
const dots29 = [[2088.24,47163],[2088.42,47217],[2088.78,47240],[2089.32,47255],[2089.68,47255],[2090.04,47171],[2090.67,47255],[2091.06,47217],[2091.51,47247],[2091.96,47217],[2092.29,47250],[2092.74,47186],[2092.92,47240],[2093.46,47232],[2093.94,47186],[2094.63,47250],[2095.35,47255],[2095.62,47247],[2096.16,47202],[2097.06,47235],[2097.42,47255],[2098.05,47217],[2098.59,47171],[2099.16,47232],[2099.4,47209],
[2102.46,47247],[2102.73,47247],[2103.18,47240],[2103.72,47202],[2104.44,47202],[2104.89,47217],[2105.34,47186],[2105.88,47224],[2106.24,47255],[2106.51,47240],[2107.14,47217],[2107.59,47247],[2108.13,47186],[2108.49,47247],[2109.3,47209],[2109.84,47224],[2110.47,47209],[2111.0,47255],[2111.46,47217],[2111.9,47186],[2112.45,47240],[2113.04,47255],
[2088.45,46679],[2088.87,46744],[2089.68,46691],[2090.4,46698],[2090.94,46744],[2092.02,46695],[2092.39,46633],[2093.37,46698],[2094.63,46691],[2095.98,46744],[2097.06,46698],[2098.05,46729],[2099.3,46721],
[2102.55,46744],[2103.45,46714],[2105.16,46691],[2106.11,46714],[2107.05,46663],[2107.95,46714],[2108.76,46714],[2110.1,46721],[2111.1,46744],[2112.18,46701],[2112.32,46668],[2112.9,46737]];
const dots30 = [[2115.94,46042],[2116.15,46059],[2116.42,46035],[2116.72,46055],[2116.95,46014],[2117.24,46059],[2118.45,46062],[2118.72,46069],[2119.16,46059],[2119.64,46021],[2120.15,46028],[2120.36,46048],[2120.88,46073],[2121.26,46021],[2121.55,46062],[2122.13,46073],[2122.7,46048],[2123.37,46055],[2124.14,46073],[2124.75,46062],[2125.38,46073],[2125.77,46055],[2126.15,46076],[2126.72,46035],[2127.49,46051],
[2130.33,46032],[2130.56,46024],[2131.65,46073],[2132.13,46069],[2133.0,46051],[2133.52,46076],[2133.81,46055],[2134.39,46069],[2134.68,46065],[2135.25,46028],[2135.92,46035],[2136.69,46042],[2137.45,46078],[2137.93,46055],[2138.51,46042],[2139.18,46035],[2139.85,46028],[2140.42,46062],[2140.9,46051],[2141.57,46046],[2142.2,46080],[2142.34,46042],
[2115.9,45580],[2116.86,45564],[2118.1,45562],[2118.77,45553],[2119.39,45553],[2120.23,45523],[2120.88,45543],[2121.55,45560],[2122.7,45598],[2123.7,45553],[2124.33,45587],[2125.19,45553],[2126.15,45580],[2126.92,45539],[2127.49,45590],
[2130.36,45594],[2130.65,45564],[2132.09,45573],[2133.43,45560],[2134.39,45553],[2135.21,45537],[2135.73,45580],[2136.59,45560],[2137.26,45567],[2137.99,45580],[2139.66,45549],[2140.13,45576],[2141.28,45580],[2141.95,45580]];
const dots31 = [[2145.0,46081],[2145.36,46003],[2145.54,46081],[2145.9,46058],[2146.26,46066],[2146.53,46034],[2146.71,46073],[2147.26,46050],[2147.53,46081],[2147.8,46089],[2148.07,46042],[2148.52,46053],[2148.7,46026],[2149.06,46042],[2149.42,46073],[2149.87,46094],[2150.32,46066],[2150.87,46089],[2151.32,46058],[2151.77,46034],[2152.22,46089],[2152.76,46066],[2153.57,46089],[2154.08,46050],[2154.57,46031],[2155.2,46066],[2155.74,46089],[2156.19,46073],[2156.73,46058],
[2159.35,46058],[2159.8,46026],[2160.25,46066],[2160.79,46081],[2161.34,46089],[2161.88,46058],[2162.33,46026],[2162.96,46042],[2163.5,46058],[2163.86,46081],[2164.4,46089],[2165.04,46066],[2165.49,46042],[2165.94,46073],[2166.39,46089],[2166.93,46058],[2167.38,46066],[2168.01,46089],[2168.56,46081],[2168.92,46058],[2169.37,46003],[2169.91,46089],
[2145.27,45556],[2145.9,45572],[2146.71,45545],[2147.35,45572],[2148.3,45541],[2149.57,45502],[2149.69,45453],[2150.36,45549],[2150.87,45572],[2151.91,45538],[2152.49,45567],[2154.12,45530],[2154.84,45536],
[2159.35,45583],[2160.97,45483],[2161.34,45533],[2161.88,45505],[2162.69,45541],[2163.18,45509],[2163.95,45572],[2164.58,45567],[2165.67,45564],[2166.39,45567],[2167.29,45572],[2168.2,45564],[2169.28,45533],[2169.82,45588]];
const dots32 = [[2174.2,46328],[2174.34,46363],[2174.53,46406],[2174.72,46392],[2174.91,46370],[2175.19,46349],[2175.47,46406],[2175.76,46385],[2176.33,46392],[2176.61,46314],[2177.08,46328],[2177.56,46385],[2177.84,46408],[2178.13,46363],[2178.5,46392],[2179.07,46408],[2179.36,46349],[2179.73,46403],[2180.21,46408],[2180.49,46356],[2181.25,46349],[2181.82,46321],[2182.48,46413],[2182.86,46406],[2183.33,46377],[2183.81,46403],[2184.38,46406],[2184.85,46349],[2185.32,46406],[2185.61,46385],
[2187.12,46394],[2187.4,46370],[2187.69,46349],[2188.07,46406],[2188.45,46392],[2188.73,46413],[2189.2,46363],[2189.68,46399],[2190.25,46406],[2190.63,46408],[2191.1,46349],[2191.67,46392],[2192.23,46370],[2192.8,46335],[2193.56,46408],[2194.13,46370],[2194.7,46349],[2195.27,46408],[2195.74,46406],[2196.21,46363],[2197.06,46408],[2197.54,46349],[2198.2,46370],[2198.67,46406],[2199.24,46408],[2199.72,46370],[2200.25,46403],
[2174.38,45894],[2175.04,45913],[2175.34,45906],[2176.04,45906],[2176.8,45887],[2177.65,45920],[2178.41,45885],[2179.07,45856],[2179.92,45910],[2180.59,45856],[2181.06,45870],[2182.1,45877],[2182.95,45913],[2184.09,45892],[2185.04,45913],[2185.74,45906],
[2187.22,45899],[2187.5,45885],[2189.3,45849],[2190.06,45875],[2191.1,45913],[2192.14,45899],[2193.47,45866],[2194.41,45906],[2195.64,45877],[2196.59,45899],[2197.46,45838],[2198.39,45877],[2199.24,45899],[2199.96,45906]];
const dots33 = [[2201.79,46910],[2201.92,46852],[2202.29,46874],[2202.53,46888],[2202.76,46837],[2203.04,46859],[2203.32,46874],[2203.73,46884],[2204.07,46859],[2204.35,46903],[2204.53,46910],[2205.0,46884],[2205.47,46874],[2205.84,46896],[2206.12,46859],[2206.53,46866],[2207.06,46903],[2207.43,46899],[2207.9,46881],[2208.36,46859],[2208.64,46910],[2209.11,46874],[2209.67,46888],[2210.05,46884],[2210.57,46910],[2210.98,46903],[2211.36,46899],[2211.73,46884],[2212.2,46896],[2212.66,46899],[2213.41,46907],[2213.79,46881],
[2215.47,46893],[2215.75,46866],[2216.03,46852],[2216.78,46837],[2217.34,46859],[2217.71,46893],[2218.18,46852],[2218.83,46910],[2219.21,46869],[2219.67,46852],[2220.14,46884],[2220.61,46910],[2220.89,46893],[2221.36,46837],[2222.1,46910],[2222.57,46888],[2223.13,46896],[2223.69,46874],[2224.25,46852],[2224.91,46881],[2225.47,46859],[2225.93,46896],[2226.4,46913],[2226.87,46888],[2227.24,46866],[2227.5,46912],
[2201.82,46421],[2202.66,46355],[2202.98,46370],[2203.88,46355],[2204.44,46385],[2205.09,46373],[2206.03,46363],[2206.5,46377],[2207.62,46399],[2208.93,46385],[2209.77,46373],[2210.36,46316],[2211.17,46385],[2212.48,46392],[2212.85,46366],[2213.41,46367],
[2215.65,46355],[2216.5,46399],[2217.52,46399],[2218.46,46392],[2219.3,46399],[2219.95,46353],[2221.07,46385],[2221.64,46355],[2222.76,46385],[2223.54,46329],[2223.97,46326],[2224.53,46348],[2225.04,46317],[2225.75,46377],[2226.31,46377],[2227.21,46414]];
const dots34 = [[2229.66,46460],[2229.84,46522],[2230.05,46445],[2230.32,46423],[2230.59,46430],[2230.85,46452],[2231.2,46415],[2231.56,46430],[2231.88,46531],[2232.18,46445],[2232.71,46497],[2232.89,46475],[2233.25,46512],[2233.69,46504],[2234.17,46527],[2234.31,46512],[2234.84,46519],[2235.38,46475],[2236.0,46527],[2236.8,46490],[2237.24,46533],[2237.77,46475],[2238.3,46516],[2238.92,46482],[2239.46,46504],[2239.81,46497],[2240.17,46490],[2240.61,46482],[2241.14,46490],[2241.2,46527],
[2242.74,46487],[2243.09,46475],[2243.54,46527],[2244.16,46490],[2244.69,46531],[2245.13,46527],[2245.67,46475],[2246.38,46531],[2246.91,46452],[2247.18,46522],[2247.62,46475],[2248.15,46490],[2248.68,46519],[2249.22,46504],[2249.84,46531],[2250.28,46445],[2250.64,46482],[2251.26,46519],[2251.79,46487],[2252.06,46531],[2252.59,46467],[2253.12,46519],[2253.65,46475],[2254.0,46507],[2254.1,46527],
[2229.66,46050],[2230.05,45998],[2230.76,46028],[2231.38,46021],[2231.74,46013],[2232.89,45983],[2233.0,45980],[2233.69,46035],[2234.05,46021],[2235.2,46035],[2236.26,46035],[2236.88,46006],[2237.24,46010],[2238.3,45957],[2238.53,45922],[2238.48,45983],[2239.1,46028],[2239.99,46013],[2240.66,46006],[2241.14,46028],
[2242.83,46050],[2243.63,46028],[2244.34,46028],[2245.63,46013],[2246.2,46035],[2246.64,45961],[2246.73,45991],[2247.97,46006],[2248.68,46035],[2249.48,46028],[2250.1,46021],[2250.64,46021],[2251.52,46035],[2252.59,46035],[2253.21,46043],[2253.83,46058]];
const dots36 = [[2281.86,46352],[2281.93,46423],[2282.07,46401],[2282.34,46451],[2282.6,46359],[2282.95,46409],[2283.12,46380],[2283.3,46373],[2283.56,46387],[2283.91,46401],[2284.26,46338],[2284.35,46430],[2284.79,46451],[2284.96,46373],[2285.19,46447],[2285.49,46359],[2285.93,46373],[2286.42,46437],[2286.67,46451],[2287.16,46416],[2287.42,46444],[2287.77,46380],[2288.21,46447],[2288.73,46387],[2289.26,46416],[2289.79,46401],[2290.1,46447],[2290.49,46394],[2291.01,46423],[2291.45,46394],[2291.98,46444],[2292.5,46380],
[2294.9,46416],[2295.31,46394],[2295.66,46409],[2296.18,46373],[2296.53,46444],[2296.97,46430],[2297.41,46380],[2297.85,46451],[2298.37,46416],[2298.72,46437],[2299.25,46394],[2299.69,46416],[2300.04,46447],[2300.48,46447],[2300.92,46387],[2301.44,46433],[2301.97,46401],[2302.41,46444],[2302.65,46453],[2303.11,46437],[2303.63,46444],[2304.07,46447],[2304.51,46401],[2304.86,46447],[2305.3,46416],[2305.82,46401],
[2281.9,45954],[2282.42,45975],[2283.12,45947],[2283.62,45890],[2283.74,45926],[2284.53,45940],[2285.23,45947],[2285.93,45936],[2286.54,45923],[2287.16,45947],[2288.21,45954],[2289.08,45936],[2289.75,45926],[2290.66,45968],[2292.24,45940],[2292.77,45975],
[2295.22,45872],[2295.04,45968],[2296.36,45933],[2297.59,45933],[2297.15,45907],[2298.55,45933],[2299.6,45947],[2300.83,45954],[2301.35,45933],[2302.58,45961],[2304.07,45918],[2304.6,45933],[2305.21,45940]];
const dots37 = [[2307.74,46700],[2307.83,46644],[2308.1,46666],[2308.37,46688],[2308.59,46710],[2308.91,46681],[2309.09,46703],[2309.55,46710],[2309.91,46666],[2310.18,46719],[2310.63,46636],[2310.82,46688],[2311.09,46622],[2311.45,46673],[2311.9,46703],[2312.17,46710],[2312.68,46691],[2313.08,46696],[2313.62,46673],[2313.99,46706],[2314.35,46715],[2314.71,46673],[2315.4,46691],[2315.8,46659],[2316.25,46696],[2316.7,46718],[2317.25,46673],[2317.7,46706],[2318.15,46659],[2318.55,46706],[2318.97,46662],
[2321.2,46700],[2321.41,46719],[2321.78,46710],[2322.05,46706],[2322.68,46666],[2323.04,46673],[2323.5,46636],[2323.86,46681],[2324.58,46703],[2325.22,46688],[2325.76,46700],[2326.12,46700],[2326.76,46659],[2327.3,46688],[2327.66,46691],[2328.39,46673],[2329.02,46710],[2329.2,46715],[2329.84,46673],[2330.11,46706],[2330.63,46718],[2331.01,46710],[2331.56,46659],[2332.01,46696],[2332.28,46617],[2332.64,46577],
[2307.86,46212],[2308.28,46230],[2308.55,46200],[2309.09,46227],[2310.4,46166],[2311.0,46237],[2311.81,46186],[2312.36,46203],[2313.55,46211],[2314.09,46193],[2315.25,46186],[2315.71,46178],[2316.16,46200],[2316.65,46138],[2316.88,46193],[2317.19,46144],[2318.15,46223],[2318.51,46227],
[2321.14,46245],[2322.28,46193],[2323.0,46116],[2323.62,46198],[2324.31,46171],[2325.4,46215],[2326.43,46156],[2327.57,46200],[2328.66,46208],[2329.53,46183],[2330.38,46203],[2331.56,46193],[2332.61,46186]];
const dots38 = [[2333.82,46586],[2334.01,46578],[2334.3,46542],[2334.79,46561],[2335.08,46521],[2335.37,46603],[2335.76,46550],[2336.01,46596],[2336.34,46557],[2336.78,46593],[2337.21,46596],[2337.6,46586],[2338.14,46593],[2338.47,46603],[2338.95,46600],[2339.34,46542],[2339.83,46603],[2340.12,46593],[2340.6,46521],[2341.09,46578],[2341.76,46603],[2342.25,46557],[2342.79,46593],[2343.18,46578],[2343.6,46550],[2344.28,46600],[2344.96,46571],[2345.54,46586],[2346.03,46561],[2346.22,46586],
[2347.38,46571],[2347.67,46528],[2348.06,46557],[2348.55,46604],[2349.03,46603],[2349.81,46528],[2350.0,46603],[2350.48,46506],[2350.97,46571],[2351.74,46550],[2352.42,46581],[2353.1,46593],[2353.59,46586],[2354.07,46600],[2354.55,46593],[2355.04,46603],[2355.72,46521],[2356.59,46603],[2357.13,46593],[2357.56,46578],[2357.95,46603],[2358.53,46557],[2359.11,46571],[2359.69,46557],[2360.08,46581],[2360.52,46600],
[2333.91,46096],[2334.21,46111],[2335.27,46089],[2335.56,46068],[2336.53,46049],[2337.02,46068],[2337.98,46049],[2338.57,46115],[2339.83,46046],[2340.6,46118],[2341.96,46111],[2342.44,46032],[2343.41,46068],[2343.8,46058],[2345.15,46082],[2345.54,46089],[2346.32,46022],
[2347.48,46118],[2348.55,46096],[2349.71,46060],[2350.48,46046],[2351.26,46039],[2351.84,46016],[2352.52,46068],[2353.1,46049],[2353.88,46096],[2354.65,46039],[2355.43,46068],[2356.2,46060],[2357.56,46082],[2359.01,46039],[2359.15,46068],[2360.17,46104]];
const dots39 = [[2361.79,47231],[2361.89,47187],[2362.13,47276],[2362.45,47254],[2362.7,47231],[2363.2,47202],[2363.5,47239],[2363.81,47246],[2364.15,47224],[2364.62,47284],[2364.82,47217],[2365.22,47276],[2365.53,47279],[2365.89,47246],[2366.23,47254],[2366.33,47285],[2366.74,47231],[2367.14,47276],[2367.59,47254],[2368.05,47279],[2368.46,47231],[2368.96,47217],[2369.47,47254],[2369.77,47187],[2370.38,47279],[2370.78,47231],[2371.29,47254],[2371.69,47246],[2372.19,47284],[2372.6,47249],[2373.0,47217],[2373.41,47279],[2373.85,47254],[2374.42,47285],[2374.72,47217],
[2375.93,47273],[2376.14,47246],[2376.54,47254],[2377.05,47187],[2377.55,47239],[2377.95,47279],[2378.46,47246],[2378.86,47209],[2379.37,47269],[2379.87,47231],[2380.28,47276],[2380.89,47284],[2381.39,47246],[2381.9,47269],[2382.2,47279],[2382.7,47231],[2383.31,47276],[2383.82,47246],[2384.32,47279],[2384.93,47231],[2385.33,47273],[2385.74,47279],[2386.34,47246],[2386.75,47269],[2387.35,47231],[2388.02,47285],[2388.36,47254],[2388.97,47276],[2389.57,47246],
[2361.99,46785],[2362.13,46740],[2362.8,46770],[2363.4,46710],[2363.91,46748],[2364.72,46763],[2365.36,46733],[2365.77,46740],[2366.74,46755],[2367.55,46770],[2368.19,46733],[2368.31,46718],[2368.92,46710],[2369.57,46733],[2370.38,46748],[2371.02,46718],[2371.29,46676],[2371.69,46725],[2372.6,46748],[2373.61,46770],[2374.82,46777],
[2376.03,46763],[2376.64,46725],[2377.25,46763],[2377.85,46755],[2379.17,46748],[2380.08,46740],[2380.89,46758],[2382.2,46773],[2383.31,46763],[2384.12,46748],[2384.83,46728],[2384.93,46706],[2385.74,46763],[2386.54,46748],[2387.35,46770],[2388.36,46755],[2389.37,46763]];

const cores = [core27,core28,core29,core30,core31,core32,core33,core34,core36,core37,core38,core39];
const fringes = [fringe27,fringe28,fringe29,fringe30,fringe31,fringe32,fringe33,fringe34,fringe36,fringe37,fringe38,fringe39];
const dotSets = [dots27,dots28,dots29,dots30,dots31,dots32,dots33,dots34,dots36,dots37,dots38,dots39];

// ---------------- LAYOUT ----------------
const S = 0.546;
const W = 3000 * S, H = 7500 * S;
const panelH = 625 * S;
const axL = 87 * S, axR = 2994 * S, axT = 46 * S, axB = 583 * S;
const R = 7.2 * S;              // marker radius
const tickFont = 20.5 * S, titleFont = 36 * S;
const lw = 1.6 * S;

const svg = d3.select("#chart").attr("width", W).attr("height", H)
  .attr("font-family", "'DejaVu Sans', sans-serif");

function padded(ext) { const r = ext[1] - ext[0]; return [ext[0] - 0.05 * r, ext[1] + 0.05 * r]; }

sectorLabels.forEach((lab, i) => {
  const core = cores[i], dots = dotSets[i].concat(fringes[i]);
  const pts = core.filter(d => d);
  const tExt = d3.extent(pts, d => d[0]);
  const fMin = Math.min(d3.min(pts, d => d[1]), d3.min(dots, d => d[1]));
  const fMax = Math.max(d3.max(pts, d => d[2]), d3.max(dots, d => d[1]));
  const x = d3.scaleLinear().domain(padded(tExt)).range([axL, axR]);
  const y = d3.scaleLinear().domain(padded([fMin, fMax])).range([axB, axT]);

  const g = svg.append("g").attr("transform", `translate(0,${i * panelH})`);
  const cid = "clip" + i;
  g.append("clipPath").attr("id", cid).append("rect")
    .attr("x", axL).attr("y", axT).attr("width", axR - axL).attr("height", axB - axT);
  const plot = g.append("g").attr("clip-path", `url(#${cid})`);

  const area = d3.area().defined(d => d !== null)
    .x(d => x(d[0])).y0(d => y(d[1])).y1(d => y(d[2]));
  plot.append("path").datum(core).attr("d", area)
    .attr("fill", "#000").attr("stroke", "#000").attr("stroke-width", 2 * R)
    .attr("stroke-linejoin", "round");

  plot.selectAll("circle.edge").data(pts.flatMap(d => [[d[0], d[1]], [d[0], d[2]]]))
    .join("circle").attr("class", "edge")
    .attr("cx", d => x(d[0])).attr("cy", d => y(d[1])).attr("r", R).attr("fill", "#000");

  plot.selectAll("circle.pt").data(dots).join("circle").attr("class", "pt")
    .attr("cx", d => x(d[0])).attr("cy", d => y(d[1])).attr("r", R).attr("fill", "#000");

  // axes
  const xa = g.append("g").attr("transform", `translate(0,${axB})`)
    .call(d3.axisBottom(x).tickValues(xTicks[i]).tickFormat(d3.format("d"))
      .tickSize(7 * S).tickPadding(7 * S));
  const ya = g.append("g").attr("transform", `translate(${axL},0)`)
    .call(d3.axisLeft(y).tickValues(yTicks[i]).tickFormat(d3.format("d"))
      .tickSize(7 * S).tickPadding(7 * S));
  [xa, ya].forEach(a => {
    a.select(".domain").remove();
    a.selectAll("line").attr("stroke", "#000").attr("stroke-width", lw);
    a.selectAll("text").attr("font-size", tickFont).attr("fill", "#000")
      .attr("font-family", "'DejaVu Sans', sans-serif");
  });

  g.append("rect").attr("x", axL).attr("y", axT).attr("width", axR - axL).attr("height", axB - axT)
    .attr("fill", "none").attr("stroke", "#000").attr("stroke-width", lw);

  g.append("text").attr("x", (axL + axR) / 2).attr("y", 33.5 * S)
    .attr("text-anchor", "middle").attr("font-size", titleFont).attr("fill", "#000")
    .text(`${lab} - ${targetId}`);
});
</script>
</body></html>
